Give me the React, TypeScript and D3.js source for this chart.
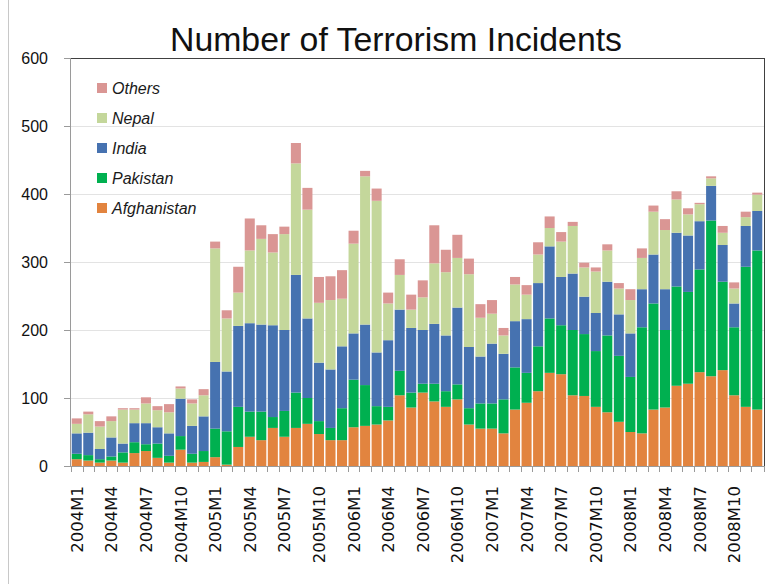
import React from "react";
import * as d3 from "d3";

const years = [2004, 2005, 2006, 2007, 2008];
const months: string[] = [];
years.forEach((y) => {
  for (let m = 1; m <= 12; m++) months.push(`${y}M${m}`);
});

const afghanistan = [10, 8, 5, 8, 5, 19, 22, 12, 5, 24, 5, 6, 13, 2, 28, 43, 38, 56, 43, 56, 62, 47, 38, 38, 57, 59, 61, 67, 104, 86, 108, 95, 87, 98, 61, 55, 55, 48, 83, 93, 110, 137, 135, 104, 103, 87, 79, 65, 50, 48, 83, 86, 118, 121, 138, 132, 141, 104, 87, 83];
const pakistan = [8, 8, 5, 6, 15, 16, 10, 21, 10, 20, 13, 16, 42, 49, 59, 37, 42, 16, 38, 52, 38, 19, 18, 47, 70, 60, 27, 20, 36, 22, 13, 26, 23, 22, 24, 37, 37, 50, 62, 44, 66, 80, 72, 96, 91, 82, 113, 97, 81, 156, 156, 114, 146, 135, 151, 229, 130, 100, 206, 234];
const india = [30, 33, 15, 28, 13, 28, 31, 24, 33, 55, 41, 51, 98, 88, 119, 130, 128, 135, 119, 173, 117, 86, 86, 91, 68, 89, 79, 98, 90, 95, 79, 88, 82, 113, 90, 69, 88, 67, 68, 79, 93, 106, 71, 83, 55, 56, 79, 61, 64, 56, 72, 60, 79, 83, 71, 51, 54, 35, 60, 58];
const nepal = [14, 27, 33, 24, 50, 20, 29, 25, 31, 15, 33, 31, 167, 78, 49, 107, 126, 107, 141, 164, 160, 88, 102, 70, 132, 218, 223, 54, 51, 27, 48, 89, 93, 73, 107, 57, 44, 27, 54, 36, 42, 27, 52, 70, 43, 61, 46, 38, 49, 46, 63, 87, 49, 31, 25, 11, 18, 22, 13, 24];
const others = [8, 4, 8, 7, 2, 2, 9, 6, 12, 3, 6, 9, 10, 12, 38, 47, 20, 27, 11, 30, 32, 38, 35, 42, 19, 8, 18, 16, 23, 22, 25, 56, 33, 34, 23, 20, 20, 11, 11, 14, 18, 17, 14, 6, 7, 6, 9, 8, 16, 14, 9, 16, 12, 9, 2, 3, 10, 9, 8, 3];

const seriesNames = ["Afghanistan", "Pakistan", "India", "Nepal", "Others"];
const seriesValues = [afghanistan, pakistan, india, nepal, others];
const colors = ["#E2843F", "#00B050", "#4672B0", "#C4D79B", "#DA9694"];
const yTicks = [0, 100, 200, 300, 400, 500, 600];

export default function App() {
  const W = 773, H = 584;
  const x0 = 70, x1 = 764, yTop = 58, yBot = 466;

  const x = d3.scaleBand<string>().domain(months).range([x0, x1]).paddingInner(0.13).paddingOuter(0.15);
  const y = d3.scaleLinear().domain([0, 600]).range([yBot, yTop]);

  const table = months.map((m, i) => {
    const row: any = { month: m };
    seriesNames.forEach((s, k) => (row[s] = seriesValues[k][i]));
    return row;
  });
  const stacked = d3.stack<any>().keys(seriesNames)(table);

  const step = x.step();
  const tickXs = months.map((m) => (x(m) as number) - (step * x.paddingInner()) / 2);
  tickXs.push(x1);

  const legendItems = [...seriesNames].reverse();

  return (
    <svg width={W} height={H} style={{ position: "absolute", left: 0, top: 0, background: "#fff" }}>
      <rect x={0} y={0} width={W} height={H} fill="#fff" />
      <line x1={8.5} x2={8.5} y1={0} y2={H} stroke="#c8c8c8" />
      {/* gridlines */}
      {yTicks.slice(1, -1).map((t) => (
        <line key={t} x1={x0} x2={x1} y1={Math.round(y(t)) + 0.5} y2={Math.round(y(t)) + 0.5} stroke="#e3e3e3" />
      ))}
      {/* bars */}
      {stacked.map((layer, k) => (
        <g key={layer.key} fill={colors[k]}>
          {layer.map((d, i) => (
            <rect
              key={i}
              x={x(months[i])}
              width={x.bandwidth()}
              y={y(d[1])}
              height={Math.max(0, y(d[0]) - y(d[1]))}
            />
          ))}
        </g>
      ))}
      {/* plot border top/right */}
      <line x1={64} x2={x1} y1={yTop + 0.5} y2={yTop + 0.5} stroke="#404040" />
      <line x1={x1 + 0.5} x2={x1 + 0.5} y1={yTop} y2={yBot} stroke="#404040" />
      {/* y axis */}
      <line x1={x0 + 0.5} x2={x0 + 0.5} y1={yTop} y2={yBot} stroke="#9a9a9a" />
      {yTicks.map((t) => (
        <g key={t}>
          <line x1={64} x2={x0} y1={Math.round(y(t)) + 0.5} y2={Math.round(y(t)) + 0.5} stroke="#9a9a9a" />
          <text x={48} y={y(t)} dy="0.35em" textAnchor="end" fontFamily="Liberation Sans, Arial, sans-serif" fontSize={16} fill="#111">
            {t}
          </text>
        </g>
      ))}
      {/* x axis */}
      <line x1={x0} x2={x1} y1={yBot + 0.5} y2={yBot + 0.5} stroke="#9a9a9a" />
      {tickXs.map((tx, i) => (
        <line key={i} x1={Math.round(tx) + 0.5} x2={Math.round(tx) + 0.5} y1={yBot} y2={yBot + 6} stroke="#9a9a9a" />
      ))}
      {months.map((m, i) =>
        i % 3 === 0 ? (
          <text
            key={m}
            transform={`translate(${(x(m) as number) + x.bandwidth() / 2},486) rotate(-90)`}
            dy="0.36em"
            textAnchor="end"
            fontFamily="DejaVu Sans, Verdana, sans-serif"
            fontSize={16.5}
            fill="#111"
          >
            {m}
          </text>
        ) : null
      )}
      {/* legend */}
      {legendItems.map((s, j) => {
        const k = seriesNames.indexOf(s);
        const cy = 88 + j * 30;
        return (
          <g key={s}>
            <rect x={97} y={cy - 5} width={10} height={10} fill={colors[k]} />
            <text x={112} y={cy} dy="0.35em" fontFamily="Liberation Sans, Arial, sans-serif" fontStyle="italic" fontSize={16} fill="#1a1a1a">
              {s}
            </text>
          </g>
        );
      })}
      {/* title */}
      <text
        x={396}
        y={51}
        textAnchor="middle"
        fontFamily="Liberation Sans, Arial, sans-serif"
        fontSize={33}
        textLength={452}
        lengthAdjust="spacingAndGlyphs"
        fill="#111"
      >
        Number of Terrorism Incidents
      </text>
    </svg>
  );
}
